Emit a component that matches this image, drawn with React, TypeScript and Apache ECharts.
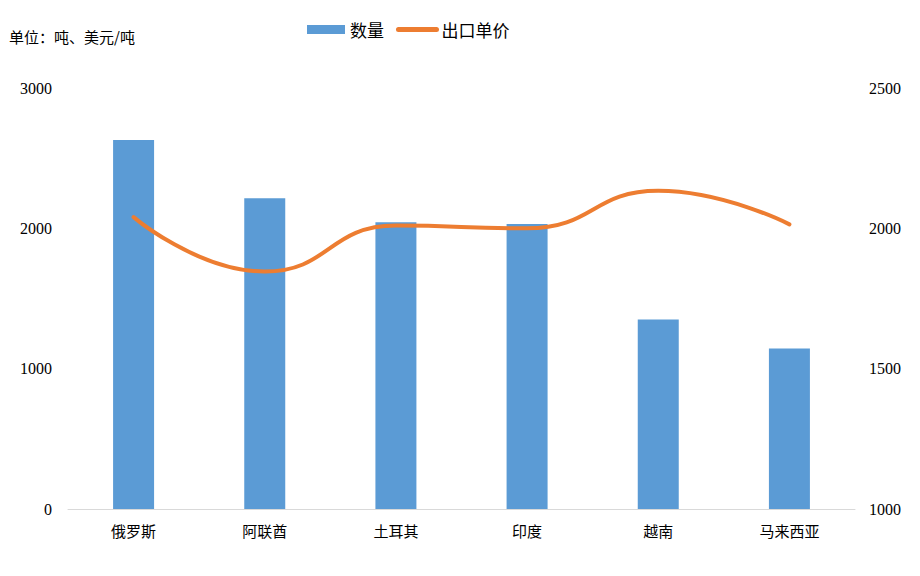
import * as echarts from 'echarts';
import React, { useEffect, useRef } from 'react';

const categories = ['俄罗斯', '阿联酋', '土耳其', '印度', '越南', '马来西亚'];
const quantity = [2630, 2215, 2043, 2030, 1350, 1143];
const unitPrice = [2040, 1846, 2010, 2000, 2134, 2014];

const cnFont = '"Noto Sans CJK SC", serif';
const numFont = '"Liberation Serif", serif';

export default function App() {
  const chartRef = useRef<HTMLDivElement>(null);

  useEffect(() => {
    const chart = echarts.init(chartRef.current, null, { renderer: 'svg' });

    const option = {
      animation: false,
      graphic: [
        {
          type: 'text',
          left: 9,
          top: 29,
          style: { text: '单位：吨、美元/吨', font: `15px ${cnFont}`, fill: '#000' },
        },
      ],
      legend: {
        top: 16,
        left: 302,
        itemGap: 12,
        itemWidth: 38,
        itemHeight: 9,
        textStyle: { fontFamily: cnFont, fontSize: 17, color: '#000' },
        data: [
          { name: '数量', icon: 'rect' },
          {
            name: '出口单价',
            itemStyle: { opacity: 0 },
            lineStyle: { width: 5, cap: 'round', color: '#ED7D31' },
          },
        ],
      },
      grid: { left: 68, right: 65, top: 88, bottom: 67, containLabel: false },
      xAxis: {
        type: 'category',
        data: categories,
        axisLine: { lineStyle: { color: '#d9d9d9', width: 1 } },
        axisTick: { show: false },
        axisLabel: { fontFamily: cnFont, fontSize: 15, color: '#000', margin: 14 },
      },
      yAxis: [
        {
          type: 'value',
          min: 0,
          max: 3000,
          interval: 1000,
          splitLine: { show: false },
          axisLine: { show: false },
          axisLabel: {
            fontFamily: numFont,
            fontSize: 16,
            color: '#000',
            margin: 16,
            formatter: (v: number) => String(v),
          },
        },
        {
          type: 'value',
          min: 1000,
          max: 2500,
          interval: 500,
          splitLine: { show: false },
          axisLine: { show: false },
          axisLabel: {
            fontFamily: numFont,
            fontSize: 16,
            color: '#000',
            margin: 14,
            formatter: (v: number) => String(v),
          },
        },
      ],
      series: [
        {
          name: '数量',
          type: 'bar',
          data: quantity,
          barWidth: 41,
          itemStyle: { color: '#5B9BD5' },
        },
        {
          name: '出口单价',
          type: 'line',
          yAxisIndex: 1,
          data: unitPrice,
          smooth: true,
          symbol: 'none',
          lineStyle: { color: '#ED7D31', width: 4, cap: 'round' },
          itemStyle: { color: '#ED7D31' },
        },
      ],
    };

    chart.setOption(option);
    return () => chart.dispose();
  }, []);

  return <div ref={chartRef} style={{ width: 920, height: 576, margin: -8 }} />;
}
